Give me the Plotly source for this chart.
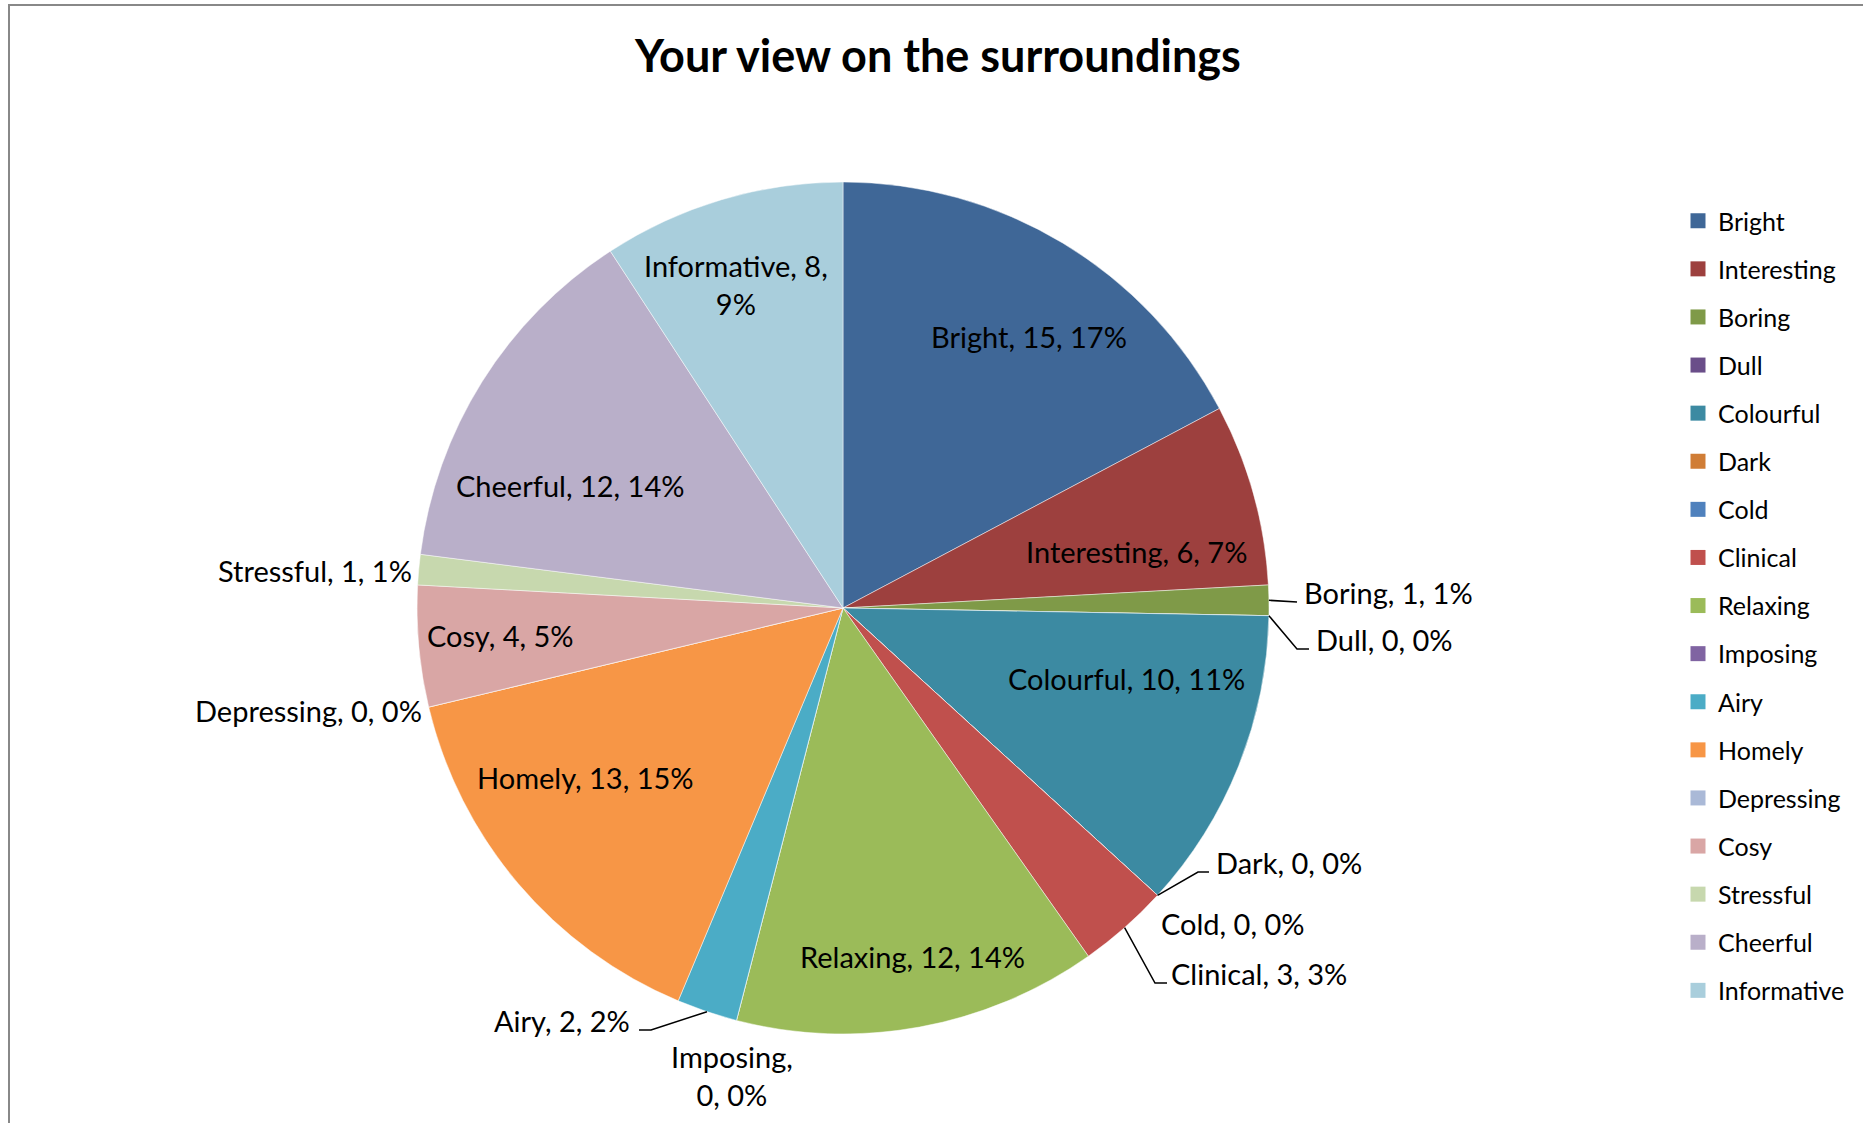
import plotly.graph_objects as go
import math

# ---------------- data ----------------
categories = ["Bright", "Interesting", "Boring", "Dull", "Colourful", "Dark", "Cold",
              "Clinical", "Relaxing", "Imposing", "Airy", "Homely", "Depressing",
              "Cosy", "Stressful", "Cheerful", "Informative"]
counts = [15, 6, 1, 0, 10, 0, 0, 3, 12, 0, 2, 13, 0, 4, 1, 12, 8]
title_text = "Your view on the surroundings"

# ---------------- style ----------------
colors = ["#3F6797", "#9D403E", "#7F9A48", "#6A4E89", "#3C8AA2", "#D07D36", "#4F81BD",
          "#C0504D", "#9BBB59", "#8064A2", "#4BACC6", "#F79646", "#AAB9D7",
          "#D9A6A5", "#C7D8AE", "#B9AFC9", "#A9CEDC"]

W, H = 1863, 1123
CX, CY, R = 843, 608, 426          # pie centre / radius in pixels
FONT = "Lato, 'Open Sans', sans-serif"
LABEL_SIZE = 29

def px(x):
    return x / W

def py(y):
    return 1 - y / H

# label placement (pixels): x, y, xanchor, wrap index, leader points
label_layout = {
    "Bright":      dict(x=1029, y=337, xa="center"),
    "Interesting": dict(x=1136, y=551, xa="center"),
    "Boring":      dict(x=1302, y=592, xa="left", lead=[(1297, 602)]),
    "Dull":        dict(x=1314, y=639, xa="left", lead=[(1297, 649), (1309, 649)]),
    "Colourful":   dict(x=1126, y=678, xa="center"),
    "Dark":        dict(x=1214, y=862, xa="left", lead=[(1198, 872), (1209, 872)]),
    "Cold":        dict(x=1159, y=923, xa="left"),
    "Clinical":    dict(x=1169, y=973, xa="left", lead=[(1155, 983), (1167, 983)]),
    "Relaxing":    dict(x=912, y=956, xa="center"),
    "Imposing":    dict(x=732, y=1075, xa="center", wrap=1),
    "Airy":        dict(x=632, y=1020, xa="right", lead=[(651, 1030), (639, 1030)]),
    "Homely":      dict(x=585, y=778, xa="center"),
    "Depressing":  dict(x=424, y=710, xa="right"),
    "Cosy":        dict(x=500, y=635, xa="center"),
    "Stressful":   dict(x=414, y=570, xa="right"),
    "Cheerful":    dict(x=570, y=485, xa="center"),
    "Informative": dict(x=736, y=284, xa="center", wrap=2),
}

total = sum(counts)

fig = go.Figure()

fig.add_trace(go.Pie(
    labels=categories,
    values=counts,
    sort=False,
    direction="clockwise",
    rotation=0,
    marker=dict(colors=colors, line=dict(color="rgba(255,255,255,0.6)", width=0.8)),
    textinfo="none",
    hoverinfo="label+value+percent",
    showlegend=False,
    domain=dict(x=[px(CX - R), px(CX + R)], y=[py(CY + R), py(CY - R)]),
))

# legend entries (one per category, spaced like the original)
for name, col in zip(categories, colors):
    fig.add_trace(go.Scatter(
        x=[None], y=[None], mode="markers", name=name, legendgroup=name,
        marker=dict(symbol="square", size=15, color=col), hoverinfo="skip",
    ))

annotations = []
shapes = []
cum = 0
for name, v in zip(categories, counts):
    start = cum
    cum += v
    mid = (start + v / 2) / total * 2 * math.pi
    pct = round(v / total * 100)
    parts = [name, str(v), f"{pct}%"]
    lay = label_layout[name]
    wrap = lay.get("wrap")
    if wrap:
        text = ", ".join(parts[:wrap]) + ",<br>" + ", ".join(parts[wrap:])
    else:
        text = ", ".join(parts)
    annotations.append(dict(
        x=px(lay["x"]), y=py(lay["y"]), xref="paper", yref="paper",
        text=text, showarrow=False, xanchor=lay["xa"], yanchor="middle",
        align="center", font=dict(family=FONT, size=LABEL_SIZE, color="#000000"),
    ))
    if "lead" in lay:
        ex = CX + R * math.sin(mid)
        ey = CY - R * math.cos(mid)
        pts = [(ex, ey)] + lay["lead"]
        path = "M " + " L ".join(f"{px(a):.5f},{py(b):.5f}" for a, b in pts)
        shapes.append(dict(type="path", xref="paper", yref="paper", path=path,
                           line=dict(color="#000000", width=1.5)))

annotations.append(dict(
    x=px(937), y=py(55), xref="paper", yref="paper", text="<b>" + title_text + "</b>",
    showarrow=False, xanchor="center", yanchor="middle",
    font=dict(family=FONT, size=45, color="#000000"),
))

# outer frame
shapes.append(dict(type="rect", xref="paper", yref="paper",
                   x0=px(9), y0=py(H + 10), x1=px(W + 10), y1=py(5),
                   line=dict(color="#888888", width=2), fillcolor="rgba(0,0,0,0)"))

fig.update_layout(
    width=W, height=H,
    margin=dict(l=0, r=0, t=0, b=0),
    paper_bgcolor="white", plot_bgcolor="white",
    xaxis=dict(visible=False, domain=[0.95, 0.96]),
    yaxis=dict(visible=False, domain=[0.0, 0.01]),
    annotations=annotations,
    shapes=shapes,
    showlegend=True,
    legend=dict(
        x=px(1678), y=py(198), xanchor="left", yanchor="top",
        font=dict(family=FONT, size=25, color="#000000"),
        tracegroupgap=12.6, traceorder="grouped",
        bgcolor="rgba(0,0,0,0)", itemclick=False, itemdoubleclick=False,
    ),
)

fig.write_html(
    "out.html",
    config={"displayModeBar": False},
    post_script="document.body.style.margin='0';document.body.style.overflow='hidden';",
)
